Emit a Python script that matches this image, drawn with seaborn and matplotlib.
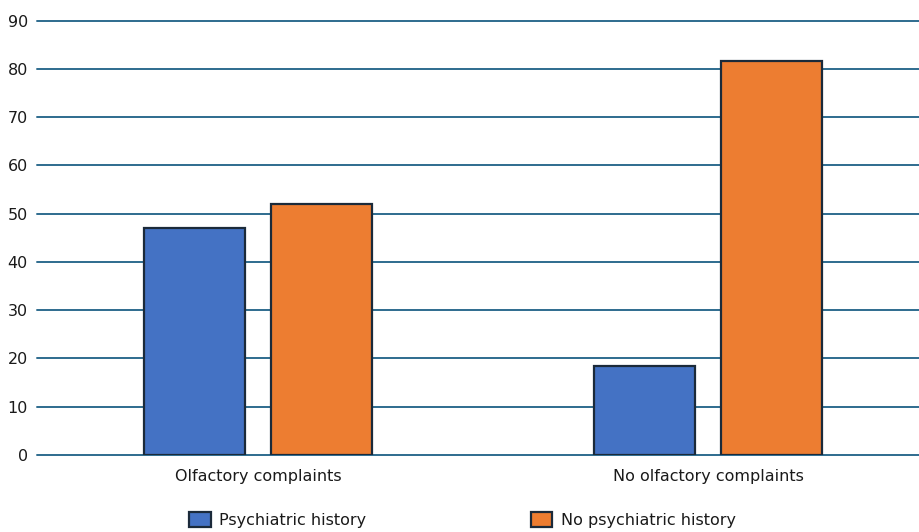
import matplotlib
matplotlib.use("Agg")
import matplotlib.pyplot as plt
import seaborn as sns
import pandas as pd

categories = ["Olfactory complaints", "No olfactory complaints"]
series_names = ["Psychiatric history", "No psychiatric history"]
psychiatric = [47.0, 18.4]
no_psychiatric = [52.0, 81.6]
yticks = [0, 10, 20, 30, 40, 50, 60, 70, 80, 90]

colors = ["#4472C4", "#ED7D31"]

df = pd.DataFrame({
    "category": categories * 2,
    "group": [series_names[0]] * 2 + [series_names[1]] * 2,
    "value": psychiatric + no_psychiatric,
})

sns.set_theme(style="white")
plt.rcParams["font.family"] = ["DejaVu Sans"]

fig = plt.figure(figsize=(9.2, 5.32), dpi=100)
ax = fig.add_axes([37 / 920, 1 - 455 / 532, 1 - 37 / 920, (455 - 20.7) / 532])

sns.barplot(data=df, x="category", y="value", hue="group", order=categories,
            hue_order=series_names, palette=colors, saturation=1, width=0.564, gap=0.21,
            edgecolor="#1B2A3A", linewidth=1.6, ax=ax, legend=True)

ax.set_ylim(0, 90)
ax.set_xlim(-0.491, 1.471)
ax.set_yticks(yticks)
ax.set_yticklabels([str(t) for t in yticks])
ax.set_axisbelow(True)
ax.yaxis.grid(True, color="#2E6B8E", linewidth=1.4)
ax.xaxis.grid(False)
for sp in ax.spines.values():
    sp.set_visible(False)
for gl in ax.get_ygridlines():
    gl.set_clip_on(False)
ax.tick_params(axis="y", length=0, pad=6.5, labelsize=11.5, colors="#1A1A1A")
ax.tick_params(axis="x", length=0, pad=10, labelsize=11.5, colors="#1A1A1A")
ax.set_xlabel("")
ax.set_ylabel("")

handles, labels = ax.get_legend_handles_labels()
ax.get_legend().remove()
fig.legend(handles, labels, loc="center", bbox_to_anchor=(0.503, 0.022), ncol=2,
           frameon=False, fontsize=11.5, handlelength=1.33, handleheight=1.07,
           handletextpad=0.55, columnspacing=10.3, labelcolor="#1A1A1A")

fig.savefig("out.png", dpi=100)
